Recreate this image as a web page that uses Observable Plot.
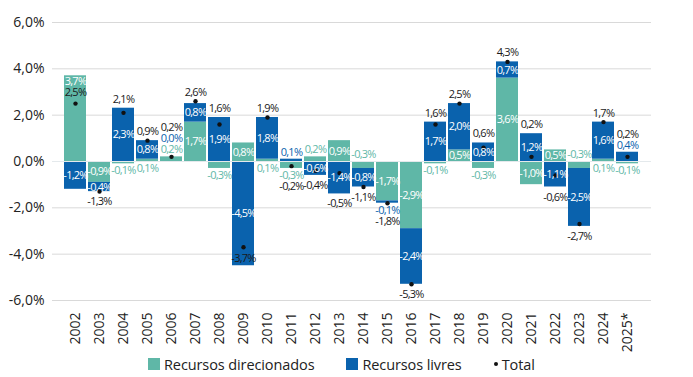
<!DOCTYPE html>
<html>
<head>
<meta charset="utf-8">
<script src="https://cdn.jsdelivr.net/npm/d3@7"></script>
<script src="https://cdn.jsdelivr.net/npm/@observablehq/plot@0.6"></script>
<style>
  body { margin: 0; background: #fff; font-family: "Open Sans", sans-serif; }
  #legend { display: flex; align-items: center; margin-left: 148px; height: 24px; font-size: 14.5px; color: #222; letter-spacing: -0.1px; }
  #legend .sw { display: inline-block; width: 12px; height: 12px; margin-right: 4px; }
  #legend .dt { display: inline-block; width: 4px; height: 4px; border-radius: 50%; background: #111; margin-right: 4px; }
  #legend .item { display: flex; align-items: center; margin-right: 32px; }
</style>
</head>
<body>
<div id="chart"></div>
<div id="legend"></div>
<script>
const years = ["2002","2003","2004","2005","2006","2007","2008","2009","2010","2011","2012","2013","2014","2015","2016","2017","2018","2019","2020","2021","2022","2023","2024","2025*"];
const direcionados = [3.7,-0.9,-0.1,0.1,0.2,1.7,-0.3,0.8,0.1,-0.3,0.2,0.9,-0.3,-1.7,-2.9,-0.1,0.5,-0.3,3.6,-1.0,0.5,-0.3,0.1,-0.1];
const livres = [-1.2,-0.4,2.3,0.8,0.0,0.8,1.9,-4.5,1.8,0.1,-0.6,-1.4,-0.8,-0.1,-2.4,1.7,2.0,0.8,0.7,1.2,-1.1,-2.5,1.6,0.4];
const total = [2.5,-1.3,2.1,0.9,0.2,2.6,1.6,-3.7,1.9,-0.2,-0.4,-0.5,-1.1,-1.8,-5.3,1.6,2.5,0.6,4.3,0.2,-0.6,-2.7,1.7,0.2];
const yTicks = [-6,-4,-2,0,2,4,6];
const seriesNames = ["Recursos direcionados","Recursos livres"];
const totalName = "Total";
const colors = ["#5fb7a7","#0a62ad"];

const W = 693, H = 352, mT = 22, mB = 52, mL = 52, mR = 42;
const yMin = -6, yMax = 6;
const pxPerUnit = (H - mT - mB) / (yMax - yMin);
const fmt = v => (Math.abs(v) < 0.05 ? 0 : v).toFixed(1).replace(".", ",") + "%";

const rows = years.flatMap((yr, i) => [
  {year: yr, series: seriesNames[0], value: direcionados[i]},
  {year: yr, series: seriesNames[1], value: livres[i]}
]);
const totals = years.map((yr, i) => ({year: yr, total: total[i]}));

// label layout (pixel offsets converted to data units)
const labels = [];
const add = (year, y, dyPx, text, fill) => labels.push({year, y: y - dyPx / pxPerUnit, text, fill});
const fitsInside = v => v >= 0.45 || v <= -0.4;
years.forEach((yr, i) => {
  const d = direcionados[i], l = livres[i], t = total[i];
  const same = (d > 0 && l > 0) || (d < 0 && l < 0);
  const lLo = same ? d : 0;
  const segs = [
    {v: d, lo: 0, hi: d, c: colors[0]},
    {v: l, lo: lLo, hi: lLo + l, c: colors[1]}
  ];
  const posEnd = Math.max(0, d) + Math.max(0, l);
  const negEnd = Math.min(0, d) + Math.min(0, l);
  const tEnd = t >= 0 ? posEnd : negEnd;
  const host = segs.find(s => Math.abs(s.v) >= 2.5 && t >= Math.min(s.lo, s.hi) && t <= Math.max(s.lo, s.hi));
  const nearDot = host && Math.abs(tEnd - t) >= 0.5;
  let nPos = 0, nNeg = 0;
  segs.forEach((s, k) => {
    if (fitsInside(s.v)) {
      let y = (s.lo + s.hi) / 2, dy = 0;
      if (nearDot && s === host && Math.abs(y - t) < 1.2) { y = s.hi; dy = s.v > 0 ? 6 : -6; }
      add(yr, y, dy, fmt(s.v), "#ffffff");
    } else {
      const up = s.v >= 0;
      if (k === 0 && same) {
        if (up) { add(yr, 0, 7 + 11 * nNeg, fmt(s.v), s.c); nNeg++; }
        else { add(yr, 0, -(7 + 11 * nPos), fmt(s.v), s.c); nPos++; }
      } else if (up) { add(yr, posEnd, -(7 + 11 * nPos), fmt(s.v), s.c); nPos++; }
      else { add(yr, negEnd, 7 + 11 * nNeg, fmt(s.v), s.c); nNeg++; }
    }
  });
  if (nearDot) {
    add(yr, t, t >= 0 ? -11.5 : 11, fmt(t), "#1a1a1a");
  } else if (t >= 0) {
    const a = Math.max(posEnd, t);
    add(yr, a, -(nPos ? 7 + 11 * nPos : 9), fmt(t), "#1a1a1a");
  } else {
    const a = Math.min(negEnd, t);
    add(yr, a, nNeg ? 7 + 11 * nNeg : 10, fmt(t), "#1a1a1a");
  }
});

const chart = Plot.plot({
  width: W, height: H,
  marginTop: mT, marginBottom: mB, marginLeft: mL, marginRight: mR,
  style: {fontFamily: "'Open Sans', sans-serif", background: "#fff", color: "#222"},
  x: {type: "band", domain: years, padding: 0.08, label: null},
  y: {domain: [yMin, yMax], label: null},
  color: {domain: seriesNames, range: colors},
  marks: [
    Plot.gridY(yTicks, {stroke: "#d9d9d9", strokeOpacity: 1}),
    Plot.barY(rows, {x: "year", y: "value", fill: "series"}),
    Plot.ruleY([0], {stroke: "#e4e9ec", strokeWidth: 1}),
    Plot.dot(totals, {x: "year", y: "total", r: 2.2, fill: "#111", stroke: null}),
    Plot.text(labels, {x: "year", y: "y", text: "text", fill: "fill",
      fontFamily: "'Open Sans', sans-serif", fontSize: 11}),
    Plot.axisY(yTicks, {tickFormat: v => v.toFixed(1).replace(".", ",") + "%", tickSize: 0, tickPadding: 8, fontSize: 14, label: null}),
    Plot.axisX({tickRotate: -90, tickSize: 0, tickPadding: 12, fontSize: 14, label: null})
  ]
});
d3.select(chart).selectAll('g[aria-label="text"] text').attr("letter-spacing", "-0.75px");
document.getElementById("chart").appendChild(chart);

const lg = document.getElementById("legend");
seriesNames.forEach((n, i) => {
  const it = document.createElement("span"); it.className = "item";
  it.innerHTML = `<span class="sw" style="background:${colors[i]}"></span><span>${n}</span>`;
  lg.appendChild(it);
});
const it = document.createElement("span"); it.className = "item";
it.innerHTML = `<span class="dt"></span><span>${totalName}</span>`;
lg.appendChild(it);
</script>
</body>
</html>
